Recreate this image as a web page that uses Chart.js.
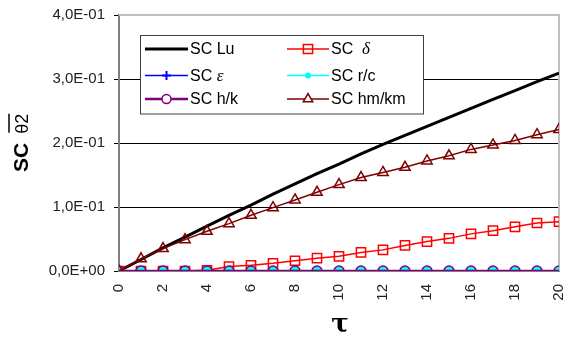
<!DOCTYPE html>
<html>
<head>
<meta charset="utf-8">
<script src="https://cdn.jsdelivr.net/npm/chart.js@4.4.1/dist/chart.umd.min.js"></script>
<style>
html,body{margin:0;padding:0;background:#fff;}
#wrap{width:567px;height:338px;position:relative;}
</style>
</head>
<body>
<div id="wrap"><canvas id="c" width="567" height="338"></canvas></div>
<script>
// ---- data ----
const tau = [0,1,2,3,4,5,6,7,8,9,10,11,12,13,14,15,16,17,18,19,20];
const scLu   = [0,0.018,0.036,0.053,0.070,0.087,0.103,0.120,0.136,0.152,0.167,0.183,0.198,0.212,0.226,0.240,0.254,0.268,0.282,0.296,0.309];
const scDelta= [0,0,0,0,0.001,0.007,0.009,0.012,0.016,0.020,0.023,0.029,0.033,0.040,0.046,0.051,0.058,0.063,0.069,0.075,0.077];
const scEps  = [0,0,0,0,0,0,0,0,0,0,0,0,0,0,0,0,0,0,0,0,0];
const scRc   = [0,0,0,0,0,0,0,0,0,0,0,0,0,0,0,0,0,0,0,0,0];
const scHk   = [0,0,0,0,0,0,0,0,0,0,0,0,0,0,0,0,0,0,0,0,0];
const scHmKm = [0,0.019,0.035,0.049,0.062,0.074,0.087,0.099,0.111,0.123,0.135,0.146,0.154,0.162,0.172,0.180,0.190,0.197,0.204,0.213,0.221];
const seriesNames = ['SC Lu','SC \u03B4','SC \u03B5','SC r/c','SC h/k','SC hm/km'];
const yTickValues = [0,0.1,0.2,0.3,0.4];
const xTickStep = 2;

function pts(arr){ return tau.map((t,i)=>({x:t,y:arr[i]})); }
function sci(v){
  if (Math.abs(v) < 1e-12) return '0,0E+00';
  const s = v.toExponential(1);
  const parts = s.split('e');
  const e = parseInt(parts[1],10);
  return parts[0].replace('.',',') + 'E' + (e<0?'-':'+') + String(Math.abs(e)).padStart(2,'0');
}

const styles = [
  {color:'#000000', width:3,   point:'none',     radius:0,   pw:0},
  {color:'#ff0000', width:1.5, point:'rect',     radius:6.5, pw:1.5},
  {color:'#0000ff', width:1,   point:'cross',    radius:4.5, pw:2},
  {color:'#00ffff', width:1.5, point:'dot',      radius:4,   pw:1},
  {color:'#800080', width:2.5, point:'circle',   radius:5,   pw:1.5},
  {color:'#800000', width:1.5, point:'triangle', radius:6,   pw:1.5}
];
const drawOrder = [5,4,3,2,1,0]; // lower = on top
const seriesData = [scLu, scDelta, scEps, scRc, scHk, scHmKm];

const datasets = seriesData.map((arr,i)=>{
  const s = styles[i];
  return {
    label: seriesNames[i],
    data: pts(arr),
    borderColor: s.color,
    borderWidth: s.width,
    backgroundColor: s.color,
    pointStyle: s.point==='dot' ? 'circle' : (s.point==='none' ? false : s.point),
    pointRadius: s.radius,
    pointBorderWidth: s.pw,
    pointBorderColor: s.color,
    pointBackgroundColor: s.point==='dot' ? s.color : 'rgba(0,0,0,0)',
    pointHoverRadius: s.radius,
    tension: 0,
    fill: false,
    order: drawOrder[i]
  };
});

function drawMarker(ctx, s, x, y){
  ctx.save();
  ctx.strokeStyle = s.color; ctx.fillStyle = s.color; ctx.lineWidth = s.pw;
  const r = s.radius;
  ctx.beginPath();
  if (s.point==='rect'){ const h = r*Math.SQRT1_2; ctx.rect(x-h,y-h,2*h,2*h); ctx.stroke(); }
  else if (s.point==='cross'){ ctx.moveTo(x-r,y); ctx.lineTo(x+r,y); ctx.moveTo(x,y-r); ctx.lineTo(x,y+r); ctx.stroke(); }
  else if (s.point==='dot'){ ctx.arc(x,y,r,0,Math.PI*2); ctx.fill(); }
  else if (s.point==='circle'){ ctx.arc(x,y,r,0,Math.PI*2); ctx.fillStyle='#fff'; ctx.fill(); ctx.stroke(); }
  else if (s.point==='triangle'){
    for (let k=0;k<3;k++){ const a = -Math.PI/2 + k*2*Math.PI/3; const px=x+Math.cos(a)*r, py=y+Math.sin(a)*r; if(k===0) ctx.moveTo(px,py); else ctx.lineTo(px,py);} ctx.closePath(); ctx.fillStyle='#fff'; ctx.fill(); ctx.stroke(); }
  ctx.restore();
}

const decorPlugin = {
  id:'decor',
  beforeDatasetsDraw(chart){
    const ctx = chart.ctx, a = chart.chartArea;
    ctx.save();
    ctx.strokeStyle = '#c0c0c0'; ctx.lineWidth = 2;
    ctx.beginPath();
    ctx.moveTo(a.left, a.top); ctx.lineTo(a.right, a.top); ctx.lineTo(a.right, a.bottom);
    ctx.stroke();
    ctx.restore();
  },
  afterDraw(chart){
    const ctx = chart.ctx;
    // legend box
    ctx.save();
    ctx.fillStyle = '#fff'; ctx.strokeStyle = '#404040'; ctx.lineWidth = 1;
    ctx.fillRect(140.5, 35.5, 283, 78.5);
    ctx.strokeRect(140.5, 35.5, 283, 78.5);
    const rows = [49, 75.5, 99];
    const cols = [{x0:145, x1:188, tx:190}, {x0:287, x1:329, tx:331}];
    const layout = [[0,0,0],[1,1,0],[2,0,1],[3,1,1],[4,0,2],[5,1,2]];
    layout.forEach(([i,c,r])=>{
      const s = styles[i], col = cols[c], y = rows[r];
      ctx.strokeStyle = s.color; ctx.lineWidth = Math.max(s.width, 1.5);
      ctx.beginPath(); ctx.moveTo(col.x0, y); ctx.lineTo(col.x1, y); ctx.stroke();
      if (s.point!=='none') drawMarker(ctx, Object.assign({}, s, {radius: s.point==='dot'?3: (s.point==='triangle'?5.5:(s.point==='rect'?6.5:4.5))}), (col.x0+col.x1)/2, y);
      ctx.fillStyle = '#000'; ctx.textBaseline = 'middle'; ctx.textAlign='left';
      const name = seriesNames[i];
      if (i===1 || i===2){
        ctx.font = '16px "Liberation Sans", Arial, sans-serif';
        const pre = i===1 ? 'SC  ' : 'SC ';
        ctx.fillText(pre, col.tx, y+1);
        const w = ctx.measureText(pre).width;
        ctx.font = 'italic 17px "Liberation Serif", "Times New Roman", serif';
        ctx.fillText(name.slice(-1), col.tx + w, y+1);
      } else {
        ctx.font = '16px "Liberation Sans", Arial, sans-serif';
        ctx.fillText(name, col.tx, y+1);
      }
    });
    // y axis title
    ctx.save();
    ctx.translate(28, 172);
    ctx.rotate(-Math.PI/2);
    ctx.fillStyle = '#000'; ctx.textBaseline='alphabetic'; ctx.textAlign='left';
    ctx.font = 'bold 21px "Liberation Sans", Arial, sans-serif';
    ctx.fillText('SC', 0, 0);
    const wsc = ctx.measureText('SC').width;
    ctx.font = '18px "Liberation Sans", Arial, sans-serif';
    const tx = wsc + 9;
    ctx.fillText('\u03B82', tx, 0);
    const wt = ctx.measureText('\u03B82').width;
    ctx.strokeStyle = '#000'; ctx.lineWidth = 1.5;
    ctx.beginPath(); ctx.moveTo(tx+1, -19); ctx.lineTo(tx+wt, -19); ctx.stroke();
    ctx.restore();
    // x axis title
    ctx.font = 'bold 26px "DejaVu Serif", "Liberation Serif", serif';
    ctx.textAlign = 'center'; ctx.textBaseline='alphabetic'; ctx.fillStyle='#000';
    ctx.fillText('\u03C4', 340, 332);
    ctx.restore();
  }
};

new Chart(document.getElementById('c'), {
  type:'line',
  data:{ datasets },
  plugins:[decorPlugin],
  options:{
    responsive:false,
    animation:false,
    events:[],
    layout:{ padding:{ top:15, right:7, left:0, bottom:0 } },
    plugins:{ legend:{display:false}, tooltip:{enabled:false} },
    scales:{
      x:{
        type:'linear', min:tau[0], max:tau[tau.length-1],
        ticks:{ stepSize:xTickStep, minRotation:90, maxRotation:90, padding:13, color:'#222',
                font:{ family:'"Liberation Sans", Arial, sans-serif', size:15 } },
        grid:{ display:false, drawTicks:false },
        border:{ display:true, color:'#808080', width:1 },
        afterFit(s){ s.height = 67; s.paddingLeft = 0; s.paddingRight = 0; }
      },
      y:{
        type:'linear', min:yTickValues[0], max:yTickValues[yTickValues.length-1],
        afterBuildTicks(s){ s.ticks = yTickValues.map(v=>({value:v})); },
        ticks:{ callback:(v)=>sci(v), padding:9, color:'#222',
                font:{ family:'"Liberation Sans", Arial, sans-serif', size:15 } },
        grid:{ color:(c)=> (c.tick && c.tick.value>=0.399) ? '#c0c0c0' : '#000', lineWidth:1, tickLength:5, tickColor:'#000', drawTicks:true },
        border:{ display:true, color:'#808080', width:2 },
        afterFit(s){ s.width = 119; s.paddingTop = 0; s.paddingBottom = 0; }
      }
    }
  }
});
</script>
</body>
</html>
